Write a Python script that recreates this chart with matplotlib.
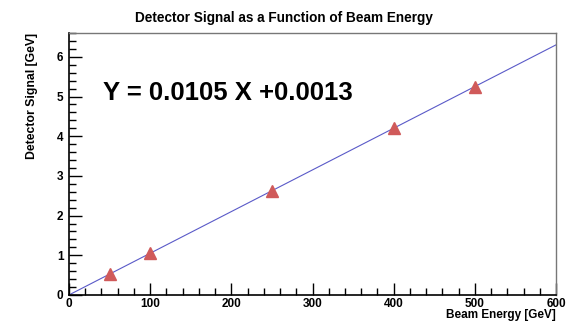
import numpy as np
import matplotlib.pyplot as plt
from matplotlib.ticker import MultipleLocator

plt.rcParams['font.family'] = ['Liberation Sans', 'DejaVu Sans']
plt.rcParams['font.weight'] = 'bold'

# data
beam_energy = [50, 100, 250, 400, 500]
signal = [0.53, 1.05, 2.63, 4.20, 5.23]
slope = 0.0105
offset = 0.0013

fig = plt.figure(figsize=(5.68, 3.22), dpi=100)
ax = fig.add_axes([0.1215, 0.0839, 0.8574, 0.8136])

# fit line
xfit = np.array([0, 600])
ax.plot(xfit, slope * xfit + offset, color='#5a5ac8', lw=0.8, zorder=2)
ax.plot(beam_energy, signal, linestyle='none', marker='^', markersize=9,
        color='#d05a5a', zorder=3)

ax.set_xlim(0, 600)
ax.set_ylim(0, 6.6)
ax.xaxis.set_major_locator(MultipleLocator(100))
ax.xaxis.set_minor_locator(MultipleLocator(20))
ax.yaxis.set_major_locator(MultipleLocator(1))
ax.yaxis.set_minor_locator(MultipleLocator(0.2))
ax.tick_params(which='both', direction='in', labelsize=8.5, width=1, color='black')
ax.tick_params(which='major', length=9)
ax.tick_params(which='minor', length=5)
ax.tick_params(axis='x', pad=2)
ax.tick_params(axis='y', pad=4)

for s in ['left', 'bottom']:
    ax.spines[s].set_linewidth(1.2)
    ax.spines[s].set_color('black')
for s in ['top', 'right']:
    ax.spines[s].set_linewidth(1.0)
    ax.spines[s].set_color('#777777')

# title centred on the canvas, ROOT style
fig.text(0.5, 0.943, 'Detector Signal as a Function of Beam Energy', fontsize=9.8,
         fontweight='bold', ha='center', va='center')
ax.set_xlabel('Beam Energy [GeV]', fontsize=8.5, fontweight='bold')
ax.xaxis.set_label_coords(1.0, -0.055)
ax.xaxis.label.set_horizontalalignment('right')
ax.set_ylabel('Detector Signal [GeV]', fontsize=8.8, fontweight='bold')
ax.yaxis.set_label_coords(-0.076, 1.0)
ax.yaxis.label.set_horizontalalignment('right')
ax.yaxis.label.set_verticalalignment('center')

ax.text(42, 5.1, 'Y = 0.0105 X +0.0013', fontsize=18.5, fontweight='bold',
        va='center', ha='left')

fig.savefig('out.png', dpi=100)
